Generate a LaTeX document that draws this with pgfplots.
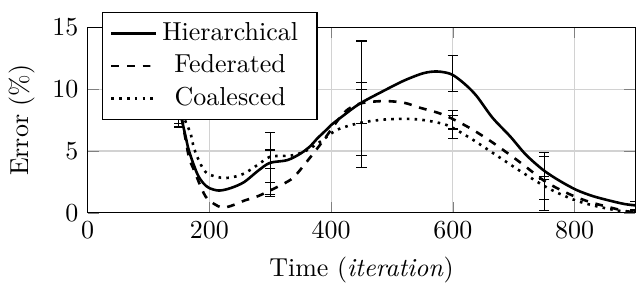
\documentclass[border=0pt]{standalone}
\usepackage{pgfplots}
\pgfplotsset{compat=1.18}
\begin{document}
\begin{tikzpicture}
\begin{axis}[
  scale only axis, width=211pt, height=71.4pt,
  xmin=0, xmax=900, ymin=0, ymax=15,
  xtick={0,200,400,600,800}, ytick={0,5,10,15},
  grid=major, grid style={gray!35, line width=0.4pt},
  xlabel={Time (\textit{iteration})}, ylabel={Error (\%)},
  legend cell align=center,
  legend style={at={(0.026,1.085)}, anchor=north west, draw=black, fill=white,
    /tikz/every even column/.append style={column sep=1pt}},
]
\addplot[black, line width=1pt, smooth] coordinates {
(150,8.6) (161,6.17) (167,4.94) (180,3.17) (190,2.4) (200,2.0) (216,1.8) (235,2.0)
(257,2.48) (280,3.4) (299.5,4.04) (328,4.26) (350,4.8) (366,5.4) (377,6.0)
(393,6.75) (400,7.1) (421,7.9) (447,8.83) (486,9.86) (520,10.7) (552,11.3)
(575,11.43) (598,11.2) (620,10.4) (639,9.45) (665,7.7) (694,6.19) (720,4.7)
(749,3.44) (775,2.6) (803,1.85) (830,1.35) (858,0.98) (882,0.71) (900,0.6)};
\addlegendentry{Hierarchical\hspace*{2.3pt}}
\addplot[black, dashed, line width=1pt, smooth] coordinates {
(150,9.0) (160,6.2) (167,4.4) (175,3.44) (186,2.1) (197,1.12) (219,0.44) (235,0.55)
(257,0.98) (280,1.35) (299.5,1.8) (320,2.3) (339,2.9) (366,4.5) (388,5.9) (421,8.09)
(447,8.83) (486,9.04) (520,8.9) (546,8.5) (575,8.1) (596,7.68) (630,6.8) (667,5.63)
(710,4.1) (749,2.62) (775,1.9) (803,1.26) (830,0.8) (858,0.44) (882,0.15) (900,0.05)};
\addlegendentry{Federated\hspace*{2.3pt}}
\addplot[black, dotted, line width=1pt, smooth] coordinates {
(150,9.3) (160,7.5) (169,6.45) (175,5.2) (186,3.9) (197,3.17) (219,2.84) (235,2.85)
(257,3.17) (280,3.9) (299.5,4.53) (320,4.6) (339,4.67) (360,5.05) (385,5.85)
(410,6.72) (447,7.27) (486,7.54) (520,7.6) (546,7.54) (575,7.3) (596,6.97) (630,6.0)
(667,4.8) (710,3.4) (749,2.2) (775,1.55) (803,0.98) (830,0.6) (858,0.3) (882,0.1)
(900,0.02)};
\addlegendentry{Coalesced\hspace*{2.3pt}}
\addplot[forget plot, draw=none, no markers,
  error bars/.cd, y dir=both, y explicit,
  error bar style={draw=black, line width=0.4pt},
  error mark options={draw=black, rotate=90, mark size=2pt, line width=0.4pt}]
coordinates {
(150,8.6) +- (0,1.7)
(300,4.0) +- (0,2.5)
(450,8.78) +- (0,5.12)
(600,11.27) +- (0,1.46)
(750,3.63) +- (0,0.95)
(900,0.6) +- (0,0.3)
(150,9.0) +- (0,1.8)
(300,1.9) +- (0,0.55)
(450,8.9) +- (0,1.65)
(600,7.53) +- (0,0.75)
(750,2.52) +- (0,2.36)
(900,0.05) +- (0,0.1)
(150,9.3) +- (0,2.3)
(300,4.35) +- (0,0.73)
(450,7.3) +- (0,2.7)
(600,6.97) +- (0,0.93)
(750,2.0) +- (0,0.9)
(900,0.05) +- (0,0.1)
};
\end{axis}
\path (current bounding box.north) ++(0,4.0pt);
\end{tikzpicture}
\end{document}
